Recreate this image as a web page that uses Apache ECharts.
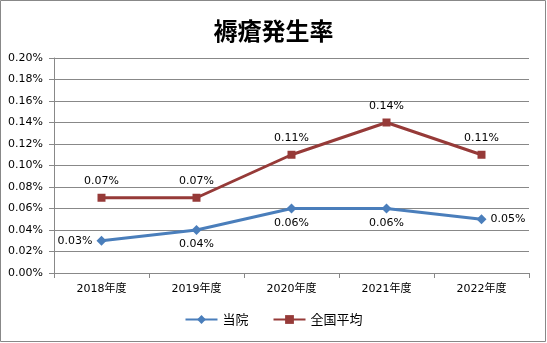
<!DOCTYPE html>
<html><head><meta charset="utf-8">
<script src="https://cdn.jsdelivr.net/npm/echarts@6/dist/echarts.min.js"></script>
<style>html,body{margin:0;padding:0;background:#fff}#c{width:547px;height:343px}</style>
</head><body><div id="c"></div>
<script>
const title = '褥瘡発生率';
const categories = ['2018年度','2019年度','2020年度','2021年度','2022年度'];
const hospital = [0.03, 0.04, 0.06, 0.06, 0.05];
const national = [0.07, 0.07, 0.11, 0.14, 0.11];
const hospitalLabelPos = ['left','bottom','bottom','bottom','right'];
const font = '"DejaVu Sans", "Noto Sans CJK JP", sans-serif';
const cjk = '"Noto Sans CJK JP", sans-serif';
const chart = echarts.init(document.getElementById('c'));
chart.setOption({
  animation: false,
  graphic: [{type:'rect', shape:{x:0.5,y:0.5,width:545,height:341}, style:{fill:'none', stroke:'#888', lineWidth:1}}],
  title: {text: title, left: 'center', top: 14, textStyle:{fontFamily: cjk, fontSize: 24, fontWeight:'bold', color:'#000'}},
  grid: {left: 54, right: 18, top: 58, bottom: 70},
  legend: {bottom: 12, left: 'center', itemWidth: 32, itemHeight: 11, itemGap: 24,
    textStyle:{fontFamily: cjk, fontSize: 13, color:'#000'},
    data:['当院','全国平均']},
  xAxis: {type:'category', data: categories, boundaryGap: true,
    axisLine:{lineStyle:{color:'#888'}}, axisTick:{show:true, length:5, lineStyle:{color:'#888'}},
    axisLabel:{fontFamily: font, fontSize: 11, color:'#000', margin: 11}},
  yAxis: {type:'value', min: 0, max: 0.2, interval: 0.02,
    axisLine:{show:true, lineStyle:{color:'#888'}}, axisTick:{show:true, length:5, lineStyle:{color:'#888'}},
    splitLine:{lineStyle:{color:'#888'}},
    axisLabel:{fontFamily: font, fontSize: 11, color:'#000', margin: 11, formatter: v => v.toFixed(2) + '%'}},
  series: [
    {name:'当院', type:'line', data: hospital.map((v,i)=>({value:v, label:{position: hospitalLabelPos[i]}})),
     symbol:'diamond', symbolSize: 10, color:'#4A7EBB', lineStyle:{width:3, color:'#4A7EBB'},
     label:{show:true, fontFamily: font, fontSize: 11, color:'#000', distance: 4, formatter: p => p.value.toFixed(2) + '%'}},
    {name:'全国平均', type:'line', data: national,
     symbol:'rect', symbolSize: 8, color:'#963A38', lineStyle:{width:3, color:'#963A38'},
     label:{show:true, position:'top', fontFamily: font, fontSize: 11, color:'#000', distance: 7, formatter: p => p.value.toFixed(2) + '%'}}
  ]
});
</script></body></html>
